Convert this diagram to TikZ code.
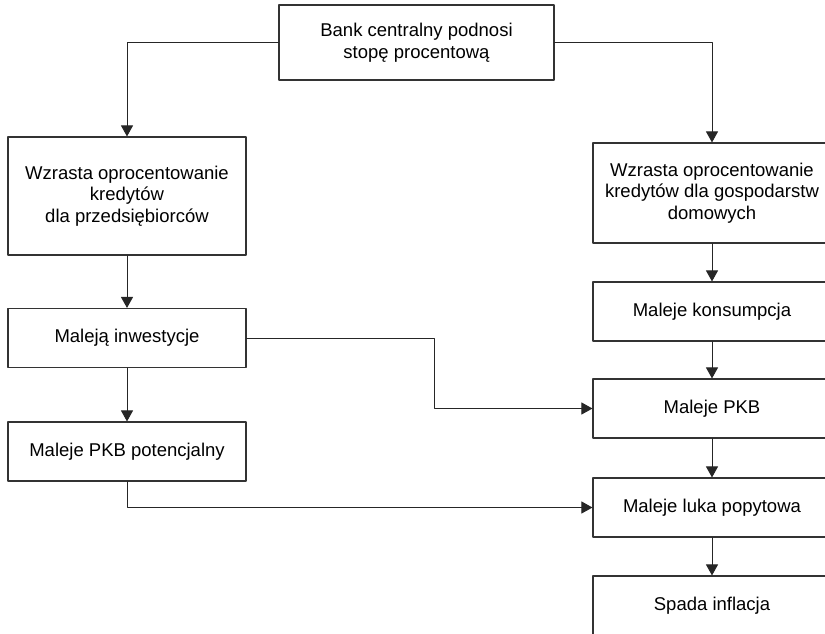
\documentclass[tikz,border=0pt]{standalone}
\usepackage{fontspec}
\setmainfont{Liberation Sans}
\usetikzlibrary{arrows.meta}

\begin{document}
\begin{tikzpicture}[x=1pt,y=-1pt, line cap=round, line join=round]

\tikzset{
  box/.style={draw=black!80, line width=1.1pt, minimum width=238pt, minimum height=59pt, inner sep=0pt, align=center, font=\fontsize{18.5}{21.5}\selectfont},
  arr/.style={-{Triangle[width=12pt,length=11pt]}, line width=1pt, draw=black!85}
}

\clip (0,0) rectangle (825,633);

\node[box, minimum width=275pt, minimum height=75pt] (bank) at (416.5,42.5) {Bank centralny podnosi\\stopę procentową};

\node[box, minimum height=118pt] (kredp) at (127,196) {Wzrasta oprocentowanie\\kredytów\\dla przedsiębiorców};
\node[box] (inwest) at (127,338) {Maleją inwestycje};
\node[box] (pkbpot) at (127,451.5) {Maleje PKB potencjalny};

\node[box, minimum height=100pt] (kredg) at (712,193) {Wzrasta oprocentowanie\\kredytów dla gospodarstw\\domowych};
\node[box] (konsum) at (712,311.5) {Maleje konsumpcja};
\node[box] (pkb) at (712,408.5) {Maleje PKB};
\node[box] (luka) at (712,507.5) {Maleje luka popytowa};
\node[box] (inflacja) at (712,605.5) {Spada inflacja};

\draw[arr] (bank.west) -| (kredp.north);
\draw[arr] (bank.east) -| (kredg.north);
\draw[arr] (kredp) -- (inwest);
\draw[arr] (inwest) -- (pkbpot);
\draw[arr] (inwest.east) -- ++(188,0) |- (pkb.west);
\draw[arr] (pkbpot.south) |- (luka.west);
\draw[arr] (kredg) -- (konsum);
\draw[arr] (konsum) -- (pkb);
\draw[arr] (pkb) -- (luka);
\draw[arr] (luka) -- (inflacja);

\end{tikzpicture}
\end{document}
